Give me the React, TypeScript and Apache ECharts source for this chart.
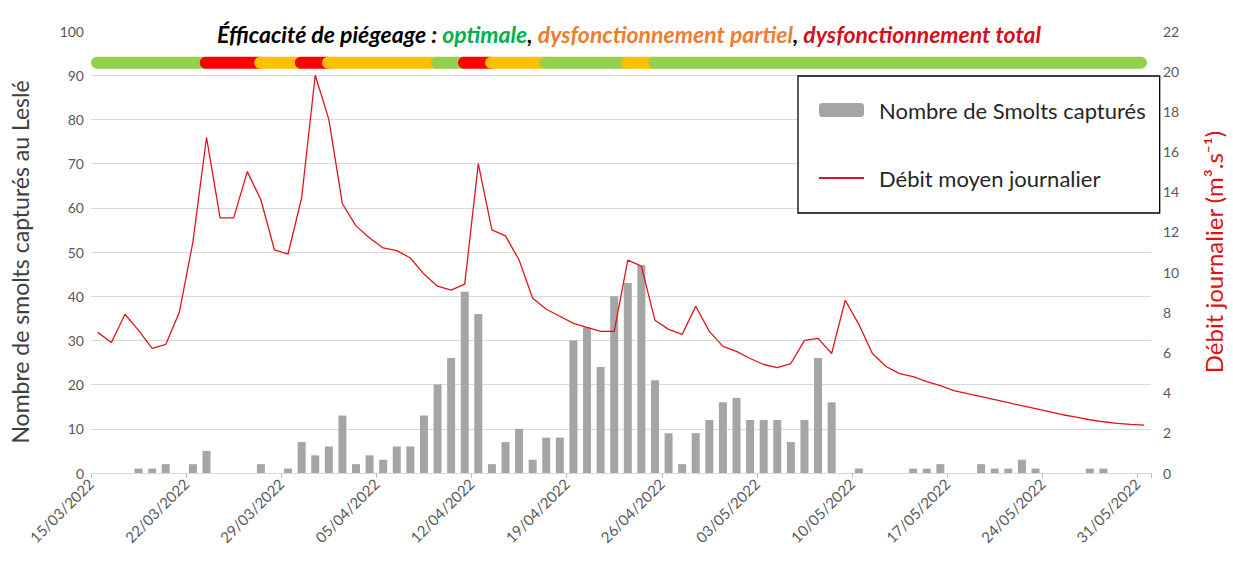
import React, { useEffect, useRef } from "react";
import * as echarts from "echarts";

// Day index 0 = 15/03/2022 ... 77 = 31/05/2022
const tickLabels = [
  "15/03/2022", "22/03/2022", "29/03/2022", "05/04/2022", "12/04/2022", "19/04/2022",
  "26/04/2022", "03/05/2022", "10/05/2022", "17/05/2022", "24/05/2022", "31/05/2022",
];

const smolts = [
  0, 0, 0, 1, 1, 2, 0, 2, 5, 0, 0, 0, 2, 0, 1, 7, 4, 6, 13, 2,
  4, 3, 6, 6, 13, 20, 26, 41, 36, 2, 7, 10, 3, 8, 8, 30, 33, 24, 40, 43,
  47, 21, 9, 2, 9, 12, 16, 17, 12, 12, 12, 7, 12, 26, 16, 0, 1, 0, 0, 0,
  1, 1, 2, 0, 0, 2, 1, 1, 3, 1, 0, 0, 0, 1, 1, 0, 0, 0,
];

const debit = [
  7.0, 6.5, 7.9, 7.1, 6.2, 6.4, 8.0, 11.5, 16.7, 12.7, 12.7, 15.0, 13.6, 11.1, 10.9, 13.7, 19.8, 17.6, 13.4, 12.3,
  11.7, 11.2, 11.07, 10.7, 9.9, 9.3, 9.1, 9.4, 15.4, 12.1, 11.8, 10.6, 8.7, 8.15, 7.8, 7.45, 7.25, 7.05, 7.05, 10.6,
  10.3, 7.6, 7.15, 6.9, 8.3, 7.05, 6.3, 6.05, 5.7, 5.4, 5.25, 5.45, 6.6, 6.7, 5.95, 8.6, 7.4, 5.95, 5.3, 4.95,
  4.8, 4.55, 4.35, 4.1, 3.95, 3.8, 3.65, 3.5, 3.35, 3.2, 3.05, 2.9, 2.78, 2.65, 2.55, 2.47, 2.42, 2.38,
];

// Trap efficiency band: [startDay, endDay], status
const bandStart = [0, 8, 12, 15, 17, 25, 27, 29, 33, 39, 41];
const bandEnd = [8, 12, 15, 17, 25, 27, 29, 33, 39, 41, 78];
const bandStatus = ["ok", "total", "partiel", "total", "partiel", "ok", "total", "partiel", "ok", "partiel", "ok"];

const BAND_LEVEL = 92.8;
const STATUS_COLORS: Record<string, string> = { ok: "#92d050", partiel: "#ffc000", total: "#ff0000" };
const FONT = "Lato, 'Open Sans', sans-serif";

export default function App() {
  const ref = useRef<HTMLDivElement>(null);
  useEffect(() => {
    document.body.style.margin = "0";
    const chart = echarts.init(ref.current!, null, { renderer: "svg" });
    const splitColors = Array.from({ length: 11 }, (_, i) => (i === 10 ? "rgba(0,0,0,0)" : "#d9d9d9"));
    const T = 23;
    const option: any = {
      animation: false,
      textStyle: { fontFamily: FONT },
      title: {
        left: 212,
        top: 17,
        text:
          "{b|Éfficacité de piégeage : }{g|optimale}{k|, }{o|dysfonctionnement partiel}{k|, }{r|dysfonctionnement total}",
        textStyle: {
          rich: {
            b: { fontFamily: FONT, fontSize: T, fontStyle: "italic", fontWeight: "bold", color: "#000" },
            g: { fontFamily: FONT, fontSize: T, fontStyle: "italic", color: "#00b050" },
            k: { fontFamily: FONT, fontSize: T, fontStyle: "italic", color: "#000" },
            o: { fontFamily: FONT, fontSize: T, fontStyle: "italic", color: "#ed7d31" },
            r: { fontFamily: FONT, fontSize: T, fontStyle: "italic", color: "#d0121b" },
          },
        },
      },
      legend: {
        data: [
          { name: "Nombre de Smolts capturés" },
          { name: "Débit moyen journalier", itemStyle: { opacity: 0 } },
        ],
        orient: "vertical",
        left: 798,
        top: 76,
        padding: [22, 14, 23, 20],
        itemWidth: 45,
        itemHeight: 14,
        itemGap: 44,
        borderColor: "#000",
        borderWidth: 1.3,
        backgroundColor: "#fff",
        textStyle: { fontFamily: FONT, fontSize: 22, lineHeight: 24, color: "#262626", padding: [0, 0, 0, 10] },
      },
      grid: { left: 91, right: 75, top: 31, bottom: 98, containLabel: false },
      xAxis: {
        type: "value",
        min: 0,
        max: 78,
        interval: 7,
        axisLine: { show: true, lineStyle: { color: "#d9d9d9" } },
        axisTick: { show: true, length: 5, lineStyle: { color: "#bfbfbf" } },
        splitLine: { show: false },
        axisLabel: {
          rotate: 45,
          margin: 8,
          fontFamily: FONT,
          fontSize: 15,
          color: "#595959",
          formatter: (v: number) => (v % 7 === 0 && tickLabels[v / 7] ? tickLabels[v / 7] : ""),
        },
      },
      yAxis: [
        {
          type: "value",
          min: 0,
          max: 100,
          interval: 10,
          name: "Nombre de smolts capturés au Leslé",
          nameLocation: "middle",
          nameRotate: 90,
          nameGap: 60,
          nameTextStyle: { fontFamily: FONT, fontSize: 23, color: "#404040", padding: [0, 20, 0, 0] },
          axisLine: { show: false },
          axisTick: { show: false },
          axisLabel: { fontFamily: FONT, fontSize: 14, color: "#595959", margin: 7 },
          splitLine: { show: true, lineStyle: { color: splitColors, width: 1 } },
        },
        {
          type: "value",
          min: 0,
          max: 22,
          interval: 2,
          position: "right",
          name: "Débit journalier (m³.s⁻¹)",
          nameLocation: "middle",
          nameRotate: 90,
          nameGap: 50,
          nameTextStyle: { fontFamily: FONT, fontSize: 24, color: "#e01010" },
          axisLine: { show: false },
          axisTick: { show: false },
          axisLabel: { fontFamily: FONT, fontSize: 14, color: "#595959", margin: 12 },
          splitLine: { show: false },
        },
      ],
      series: [
        {
          name: "Nombre de Smolts capturés",
          type: "bar",
          yAxisIndex: 0,
          barWidth: 8,
          itemStyle: { color: "#a5a5a5" },
          data: smolts.map((v, i) => [i + 0.5, v]),
        },
        {
          name: "Débit moyen journalier",
          type: "line",
          yAxisIndex: 1,
          symbol: "none",
          lineStyle: { color: "#e3131b", width: 1.3 },
          itemStyle: { color: "#e3131b" },
          data: debit.map((v, i) => [i + 0.5, v]),
        },
        {
          name: "band",
          type: "custom",
          yAxisIndex: 0,
          clip: false,
          encode: { x: [0, 1], y: 2 },
          data: bandStart.map((s, i) => [s, bandEnd[i], BAND_LEVEL]),
          renderItem: (params: any, api: any) => {
            const i = params.dataIndex;
            const p1 = api.coord([bandStart[i], BAND_LEVEL]);
            const p2 = api.coord([bandEnd[i], BAND_LEVEL]);
            const h = 12;
            const ext = i === bandStart.length - 1 ? -4 : h;
            return {
              type: "rect",
              shape: { x: p1[0], y: p1[1] - h / 2, width: p2[0] - p1[0] + ext, height: h, r: h / 2 },
              style: { fill: STATUS_COLORS[bandStatus[i]] },
            };
          },
        },
      ],
    };
    chart.setOption(option);
    return () => chart.dispose();
  }, []);
  return <div ref={ref} style={{ width: 1233, height: 571 }} />;
}
